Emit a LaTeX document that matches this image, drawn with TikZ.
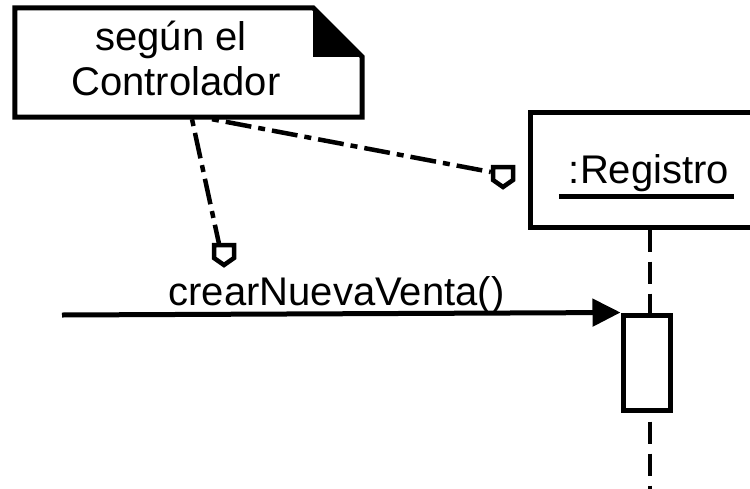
\documentclass[tikz,border=0pt]{standalone}
\usepackage{fontspec}
\setmainfont{Liberation Sans}
\usetikzlibrary{arrows.meta,calc}
\begin{document}
\begin{tikzpicture}[x=1pt,y=-1pt,
  edge/.style={line width=5pt, line join=miter},
  txt/.style={font=\fontsize{40}{45}\selectfont, inner sep=0pt, anchor=base},
  notelink/.style={line width=4.5pt, dash pattern=on 7pt off 7pt on 26pt off 7pt},
  lifeline/.style={line width=4.5pt, dash pattern=on 22pt off 10pt},
  markbox/.style={minimum size=22pt, inner sep=0pt},
  anchormark/.pic={\draw[line width=4.5pt, fill=white, line join=miter]
      (-10,-10) -- (10,-10) -- (10,3) -- (0,10) -- (-10,3) -- cycle;}
]
\useasboundingbox (0,0) rectangle (750,488);
\clip (0,0) rectangle (750,488);

% comment note with folded corner
\node[minimum width=347pt, minimum height=109pt, inner sep=0pt] (note) at (188.5,62.5) {};
\draw[edge] (note.north west) -- ([xshift=-49pt]note.north east)
  -- ([yshift=-49pt]note.north east) -- (note.south east)
  -- (note.south west) -- cycle;
\fill ([xshift=-49pt]note.north east) -- ([xshift=-49pt,yshift=-49pt]note.north east)
  -- ([yshift=-49pt]note.north east) -- cycle;
\node[txt] (noteA) at (171,50) {según el};
\node[txt] (noteB) at (176,95) {Controlador};

% object box and its lifeline
\node[draw, line width=5pt, minimum width=240pt, minimum height=115pt, inner sep=0pt] (reg) at (650,169.5) {};
\node[txt] (regtext) at (649,183) {:Registro};
\draw[line width=5pt] ([xshift=-10pt,yshift=-13pt]regtext.base west) -- ([xshift=5pt,yshift=-13pt]regtext.base east);
\coordinate (lifeend) at (650,495);
\draw[lifeline] (reg.south) -- (lifeend);

% activation bar
\node[draw, fill=white, line width=5pt, minimum width=47pt, minimum height=95pt, inner sep=0pt] (act) at (646.5,362.5) {};

% incoming message
\coordinate (msgstart) at (62,315);
\draw[line width=5pt, -{Triangle[length=28pt,width=27pt]}] (msgstart) -- (act.north west);
\node[txt] (msg) at (336.5,305) {crearNuevaVenta()};

% note attachments
\node[markbox] (m1) at (503,177) {};
\node[markbox] (m2) at (224,255) {};
\draw[notelink] ([xshift=23.5pt,yshift=-2pt]note.south) -- ([xshift=-1pt,yshift=5pt]m1.west);
\draw[notelink] ([xshift=3.5pt,yshift=-2pt]note.south) -- ([xshift=-5pt]m2.north);
\pic at (m1) {anchormark};
\pic at (m2) {anchormark};
\end{tikzpicture}
\end{document}
